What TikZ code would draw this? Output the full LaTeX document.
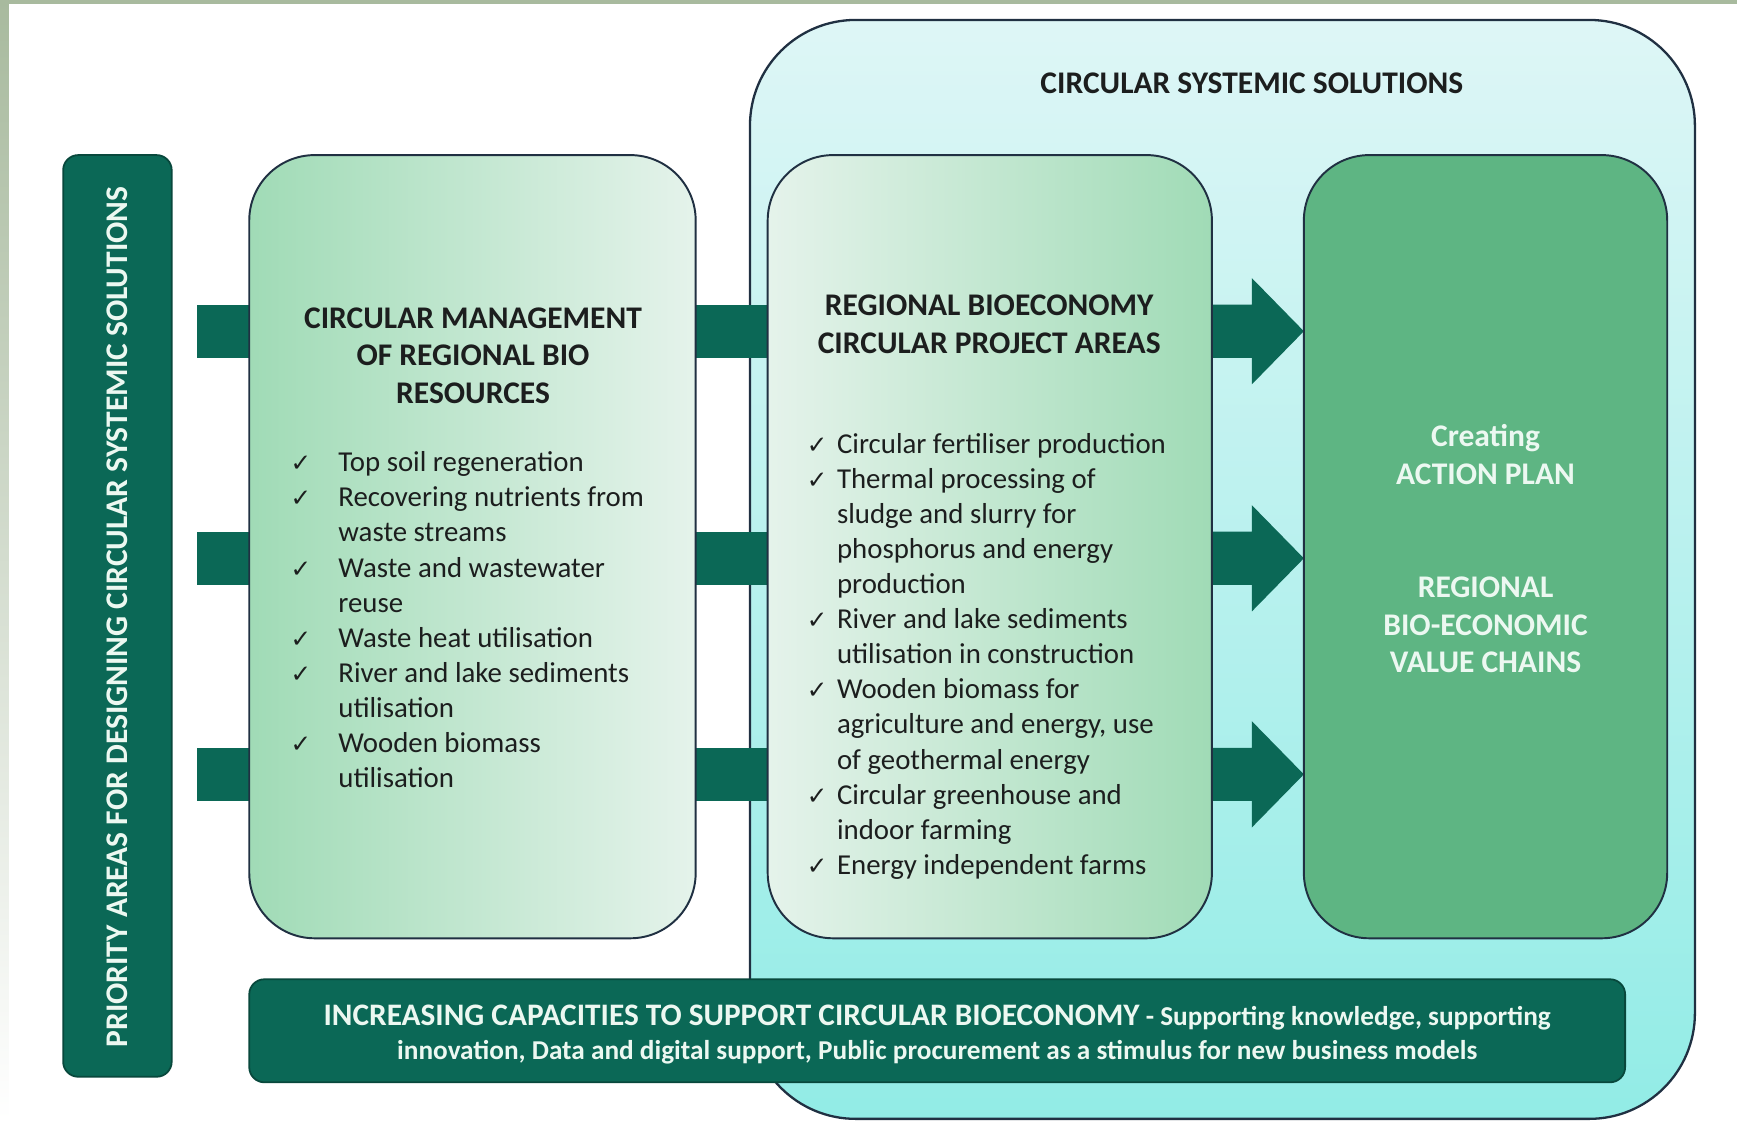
\documentclass[tikz,border=0pt]{standalone}
\usepackage{fontspec}
\setmainfont{Carlito}
\newfontfamily\symfont{DejaVu Sans}
\usetikzlibrary{positioning}

\definecolor{darkteal}{RGB}{11,104,86}
\definecolor{tealedge}{RGB}{8,72,60}
\definecolor{boxgreen}{RGB}{94,181,131}
\definecolor{leafgreen}{RGB}{160,219,182}
\definecolor{palegreen}{RGB}{229,243,235}
\definecolor{skytop}{RGB}{222,246,246}
\definecolor{skybottom}{RGB}{146,236,230}
\definecolor{edgeblue}{RGB}{32,48,66}
\definecolor{sage}{RGB}{168,186,158}
\definecolor{chalk}{RGB}{236,248,241}
\definecolor{ink}{RGB}{28,30,30}

\newcommand{\pxu}{0.022cm}
\newcommand{\tick}{{\symfont\scalebox{0.85}{\char"2713}}}

\pgfdeclarelayer{back}
\pgfdeclarelayer{mid}
\pgfsetlayers{back,mid,main}

\tikzset{
  sysbox/.style={draw=edgeblue, line width=1.3pt, rounded corners=2.1cm,
    top color=skytop, bottom color=skybottom, inner sep=0pt, outer sep=0pt},
  areabox/.style={draw=edgeblue, line width=1.1pt, rounded corners=1.3cm,
    inner sep=0pt, outer sep=0pt},
  darkbar/.style={draw=tealedge, line width=1pt, fill=darkteal,
    rounded corners=0.3cm, inner sep=0pt, outer sep=0pt},
  band/.style={draw=darkteal, line width=48*\pxu},
  headtext/.style={font=\fontsize{17.8}{21.3}\selectfont\bfseries, text=ink,
    align=center, inner sep=0pt},
  whitetext/.style={font=\fontsize{17.8}{21.3}\selectfont\bfseries, text=chalk,
    align=center, inner sep=0pt},
  listtext/.style={font=\fontsize{16.3}{19.8}\selectfont, text=ink, inner sep=0pt}
}

\begin{document}
\begin{tikzpicture}[x=\pxu, y=-\pxu]
  \useasboundingbox (0,0) rectangle (1568,1012);

  % outer area
  \begin{pgfonlayer}{back}
    \fill[white] (0,0) rectangle (1568,1012);
    \node[sysbox, minimum width=853*\pxu, minimum height=992*\pxu] (systemic) at (1103.5,514) {};
  \end{pgfonlayer}
  % frame of the slide
  \shade[top color=sage, bottom color=white] (0,0) rectangle (8,1012);
  \fill[sage] (0,0) rectangle (1568,4);
  \node[headtext] (systemictitle) at (1130,75) {CIRCULAR SYSTEMIC SOLUTIONS};

  % main boxes
  \node[darkbar, minimum width=98*\pxu, minimum height=832*\pxu] (priority) at (106,556) {};
  \node[areabox, left color=leafgreen, right color=palegreen,
        minimum width=403*\pxu, minimum height=707*\pxu] (resources) at (426.5,493.5) {};
  \node[areabox, left color=palegreen, right color=leafgreen,
        minimum width=401*\pxu, minimum height=707*\pxu] (projects) at (893.5,493.5) {};
  \node[areabox, fill=boxgreen, minimum width=328*\pxu, minimum height=707*\pxu] (actionplan) at (1341,493.5) {};
  \node[darkbar, minimum width=1242*\pxu, minimum height=93*\pxu] (capacities) at (846,930.5) {};

  % flows
  \coordinate (row1) at (0,299);
  \coordinate (row2) at (0,504);
  \coordinate (row3) at (0,699);
  \begin{pgfonlayer}{mid}
    \foreach \r in {row1,row2,row3}{
      \draw[band] ([xshift=23*\pxu]priority.east |- \r) -- (resources.west |- \r);
      \draw[band] (resources.east |- \r) -- (projects.west |- \r);
      \fill[darkteal] (projects.east |- \r) ++(0,-24) -- ++(36,0) -- ++(0,-24)
        -- (actionplan.west |- \r) -- ++(-47,48) -- ++(0,-24) -- ++(-36,0) -- cycle;
    }
  \end{pgfonlayer}

  % texts
  \node[whitetext, rotate=90] (prioritytext) at (106,557)
    {PRIORITY AREAS FOR DESIGNING CIRCULAR SYSTEMIC SOLUTIONS};

  \node[headtext] (resourcestitle) at (427,321)
    {CIRCULAR MANAGEMENT\\OF REGIONAL BIO\\RESOURCES};
  \node[listtext, anchor=west] (resourcelist) at (262,562) {%
    \begin{tabular}{@{}p{0.95cm}@{}l@{}}
      \tick & Top soil regeneration\\
      \tick & Recovering nutrients from\\
            & waste streams\\
      \tick & Waste and wastewater\\
            & reuse\\
      \tick & Waste heat utilisation\\
      \tick & River and lake sediments\\
            & utilisation\\
      \tick & Wooden biomass\\
            & utilisation
    \end{tabular}};

  \node[headtext] (projectstitle) at (893,293)
    {REGIONAL BIOECONOMY\\CIRCULAR PROJECT AREAS};
  \node[listtext, anchor=west] (projectlist) at (728,593) {%
    \begin{tabular}{@{}p{0.6cm}@{}l@{}}
      \tick & Circular fertiliser production\\
      \tick & Thermal processing of\\
            & sludge and slurry for\\
            & phosphorus and energy\\
            & production\\
      \tick & River and lake sediments\\
            & utilisation in construction\\
      \tick & Wooden biomass for\\
            & agriculture and energy, use\\
            & of geothermal energy\\
      \tick & Circular greenhouse and\\
            & indoor farming\\
      \tick & Energy independent farms
    \end{tabular}};

  \node[whitetext] (plantext) at (1341,410) {Creating\\ACTION PLAN};
  \node[whitetext] (chaintext) at (1341,564) {REGIONAL\\BIO-ECONOMIC\\VALUE CHAINS};

  \node[whitetext, font=\fontsize{15.4}{19.4}\selectfont\bfseries] (capacitiestext) at (846,934)
    {{\fontsize{17.7}{19.4}\selectfont INCREASING CAPACITIES TO SUPPORT CIRCULAR BIOECONOMY} - Supporting knowledge, supporting\\
     innovation, Data and digital support, Public procurement as a stimulus for new business models};
\end{tikzpicture}
\end{document}
